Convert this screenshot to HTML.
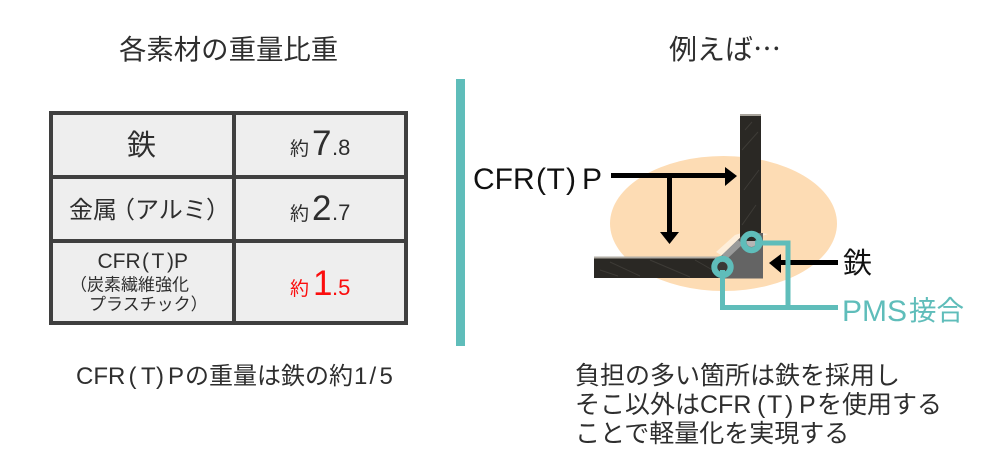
<!DOCTYPE html>
<html lang="ja"><head><meta charset="utf-8">
<style>
html,body{margin:0;padding:0;background:#fff}
svg{display:block}
text{font-family:"Liberation Sans","Noto Sans CJK JP",sans-serif;fill:#2e2e2e}
.jp{font-family:"Noto Sans CJK JP","Liberation Sans",sans-serif}
</style></head><body>
<svg width="1000" height="461" viewBox="0 0 1000 461" xmlns="http://www.w3.org/2000/svg">
<rect width="1000" height="461" fill="#fff"/>
<text x="119" y="59" font-size="27.4" class="jp">各素材の重量比重</text>
<text x="669" y="59" font-size="28" class="jp">例えば…</text>

<!-- table -->
<rect x="51" y="113" width="355" height="210" fill="#eeeeee" stroke="#3f3f3f" stroke-width="4"/>
<rect x="232" y="111" width="4" height="214" fill="#3f3f3f"/>
<rect x="49" y="175" width="359" height="4" fill="#3f3f3f"/>
<rect x="49" y="239" width="359" height="4" fill="#3f3f3f"/>

<text x="127" y="155" font-size="29" class="jp">鉄</text>
<text y="218" font-size="24" class="jp"><tspan x="69">金属</tspan><tspan x="111">（</tspan><tspan x="135">アルミ</tspan><tspan x="206">）</tspan></text>
<text y="268" font-size="21"><tspan x="97.5">CFR</tspan><tspan x="142">(</tspan><tspan x="151.5">T</tspan><tspan x="167">)</tspan><tspan x="174">P</tspan></text>
<text x="70" y="290.5" font-size="17" class="jp">（炭素繊維強化</text>
<text x="89" y="310" font-size="17" class="jp">プラスチック）</text>

<g>
<text x="290" y="155" font-size="19" class="jp">約</text>
<text x="312" y="155" font-size="35">7</text>
<text x="332" y="155" font-size="22">.8</text>
<text x="290" y="220" font-size="19" class="jp">約</text>
<text x="312" y="220" font-size="35">2</text>
<text x="332" y="220" font-size="22">.7</text>
<text x="290" y="295" font-size="19" class="jp" style="fill:#fb0d0d">約</text>
<text x="313" y="295" font-size="35" style="fill:#fb0d0d">1</text>
<text x="332" y="295" font-size="22" style="fill:#fb0d0d">.5</text>
</g>

<text y="384" font-size="24"><tspan x="76">CFR</tspan><tspan x="128.5">(</tspan><tspan x="141">T</tspan><tspan x="156">)</tspan><tspan x="168">P</tspan><tspan x="185">の重量は鉄の約</tspan><tspan x="354">1</tspan><tspan x="369.5">/</tspan><tspan x="379.5">5</tspan></text>

<!-- divider -->
<rect x="456" y="79" width="9" height="267" fill="#5fbdba"/>

<!-- diagram -->
<ellipse cx="723.5" cy="223.5" rx="113.5" ry="67.5" fill="#fddcb4"/>
<polygon points="716,252 735,235 748,231 768,234 745,242 726,258" fill="#fff" opacity=".5"/>
<rect x="740" y="114" width="21" height="125" fill="#2a2824"/>
<rect x="740" y="114" width="21" height="2" fill="#a8a49c"/>
<rect x="594" y="257" width="128" height="21" fill="#2a2824"/>
<rect x="594" y="256.5" width="127" height="2" fill="#b0aca4"/>
<g stroke="#46433e" stroke-width="1" opacity=".7" fill="none">
<path d="M742 150L758 132M744 190L759 170M742 225L756 205M745 130L752 122"/>
<path d="M610 262L640 276M650 260L690 277M600 270L618 276M695 260L716 272"/>
</g>
<polygon points="721,256 745,233 763,233 763,278.5 721,278.5" fill="#646464"/>
<polygon points="722,255 738,240 743,244 727,259" fill="#9a9a9a"/>
<circle cx="751.5" cy="242" r="5" fill="#b5b5b5"/>
<path d="M746.5 241a5 5 0 0 1 10 0z" fill="#2a2824"/>
<circle cx="722.5" cy="267" r="5" fill="#3a3836"/>

<!-- black arrows -->
<g fill="#000">
<rect x="611" y="173" width="116" height="5"/>
<polygon points="725,167 737,176 725,186"/>
<rect x="667" y="175" width="5" height="60"/>
<polygon points="660,232 679,232 669.5,244"/>
<rect x="778" y="260" width="60" height="5"/>
<polygon points="781,254 769,263 781,273"/>
</g>

<!-- teal -->
<g fill="none" stroke="#5fbdba">
<path d="M755 243H788V307.5" stroke-width="5"/>
<path d="M722.5 270V307.5H838" stroke-width="5"/>
<circle cx="751.5" cy="242" r="8.2" stroke-width="6"/>
<circle cx="722.5" cy="267" r="8.2" stroke-width="6"/>
</g>

<text y="189" font-size="30" style="fill:#111"><tspan x="473">CFR</tspan><tspan x="536">(</tspan><tspan x="546.5">T</tspan><tspan x="566">)</tspan><tspan x="582">P</tspan></text>
<text x="843" y="273" font-size="29" style="fill:#111" class="jp">鉄</text>
<text x="842" y="321" font-size="30" style="fill:#5fbdba">PMS</text>
<text x="909" y="320" font-size="27.5" style="fill:#5fbdba" class="jp">接合</text>

<text x="575" y="384" font-size="25" class="jp">負担の多い箇所は鉄を採用し</text>
<text y="413" font-size="25"><tspan x="575" class="jp">そこ以外は</tspan><tspan x="700">CFR</tspan><tspan x="757">(</tspan><tspan x="767">T</tspan><tspan x="785">)</tspan><tspan x="799">P</tspan><tspan x="817" class="jp">を使用する</tspan></text>
<text x="575" y="442" font-size="25" class="jp">ことで軽量化を実現する</text>
</svg>
</body></html>
